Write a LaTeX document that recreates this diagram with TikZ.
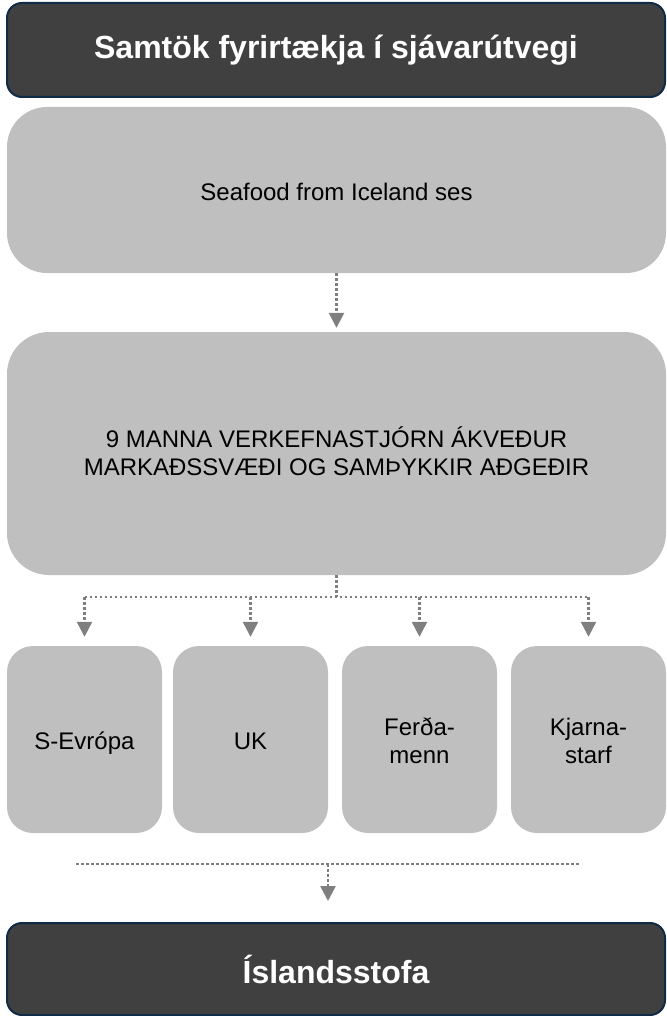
\documentclass[tikz,border=0pt]{standalone}
\usepackage{fontspec}
\setmainfont{Liberation Sans}
\usetikzlibrary{arrows.meta}
\definecolor{darkfill}{HTML}{404040}
\definecolor{navyline}{HTML}{0F2B46}
\definecolor{lightfill}{HTML}{BFBFBF}
\definecolor{connc}{HTML}{7F7F7F}
\newcommand\boxstrut{\rule[-3pt]{0pt}{25pt}}
\newcommand\midstrut{\rule[-5pt]{0pt}{25pt}}
\newcommand\seastrut{\rule[-2pt]{0pt}{26pt}}
\begin{document}
\begin{tikzpicture}[x=1pt,y=-1pt,
  darkbox/.style={draw=navyline, line width=2pt, fill=darkfill, rounded corners=15pt,
    text=white, font=\fontsize{32}{38}\selectfont\bfseries, inner sep=0pt,
    minimum width=658pt},
  lightbox/.style={fill=lightfill, inner sep=0pt, align=center,
    font=\fontsize{24}{28}\selectfont},
  smallbox/.style={lightbox, rounded corners=26pt, minimum width=155pt, minimum height=187pt},
  oneline/.style={text height=22pt, text depth=3pt},
  connline/.style={draw=connc, line width=2.5pt, dash pattern=on 2.5pt off 2.5pt},
  connarrow/.style={connline, -{Triangle[width=15pt,length=15pt]}},
]
\useasboundingbox (0,0) rectangle (666,1016);

\node[darkbox, minimum height=94pt] (top) at (336,50) {Samtök fyrirtækja í sjávarútvegi};
\node[lightbox, rounded corners=40pt, minimum width=659pt, minimum height=166pt] (seafood) at (336.5,190) {\seastrut Seafood from Iceland ses};
\node[lightbox, rounded corners=42pt, minimum width=659pt, minimum height=243pt] (middle) at (336.5,453.5) {\midstrut 9 MANNA VERKEFNASTJÓRN ÁKVEÐUR\\\midstrut MARKAÐSSVÆÐI OG SAMÞYKKIR AÐGEÐIR};

\node[smallbox, oneline] (b1) at (84.5,739.5) {S-Evrópa};
\node[smallbox, oneline] (b2) at (250.5,739.5) {UK};
\node[smallbox] (b3) at (419.5,739.5) {\boxstrut Ferða-\\\boxstrut menn};
\node[smallbox] (b4) at (588.5,739.5) {\boxstrut Kjarna-\\\boxstrut starf};

\node[darkbox, minimum height=92pt] (bottom) at (336,969) {Íslandsstofa};

% seafood -> middle
\draw[connarrow, shorten >=4pt] (seafood.south) -- (middle.north);

% middle -> four boxes
\coordinate (hub) at (336.5,597);
\draw[connline] (middle.south) -- (hub);
\draw[connline] (b1.north |- hub) -- (b4.north |- hub);
\foreach \b in {b1,b2,b3,b4}{
  \draw[connarrow, shorten >=9pt] (\b.north |- hub) -- (\b.north);
}

% collector line -> bottom
\coordinate (gl) at (76,864);
\coordinate (gr) at (580,864);
\coordinate (gm) at (328,864);
\draw[connline] (gl) -- (gr);
\draw[connarrow, shorten >=21pt] (gm) -- (gm |- bottom.north);
\end{tikzpicture}
\end{document}
